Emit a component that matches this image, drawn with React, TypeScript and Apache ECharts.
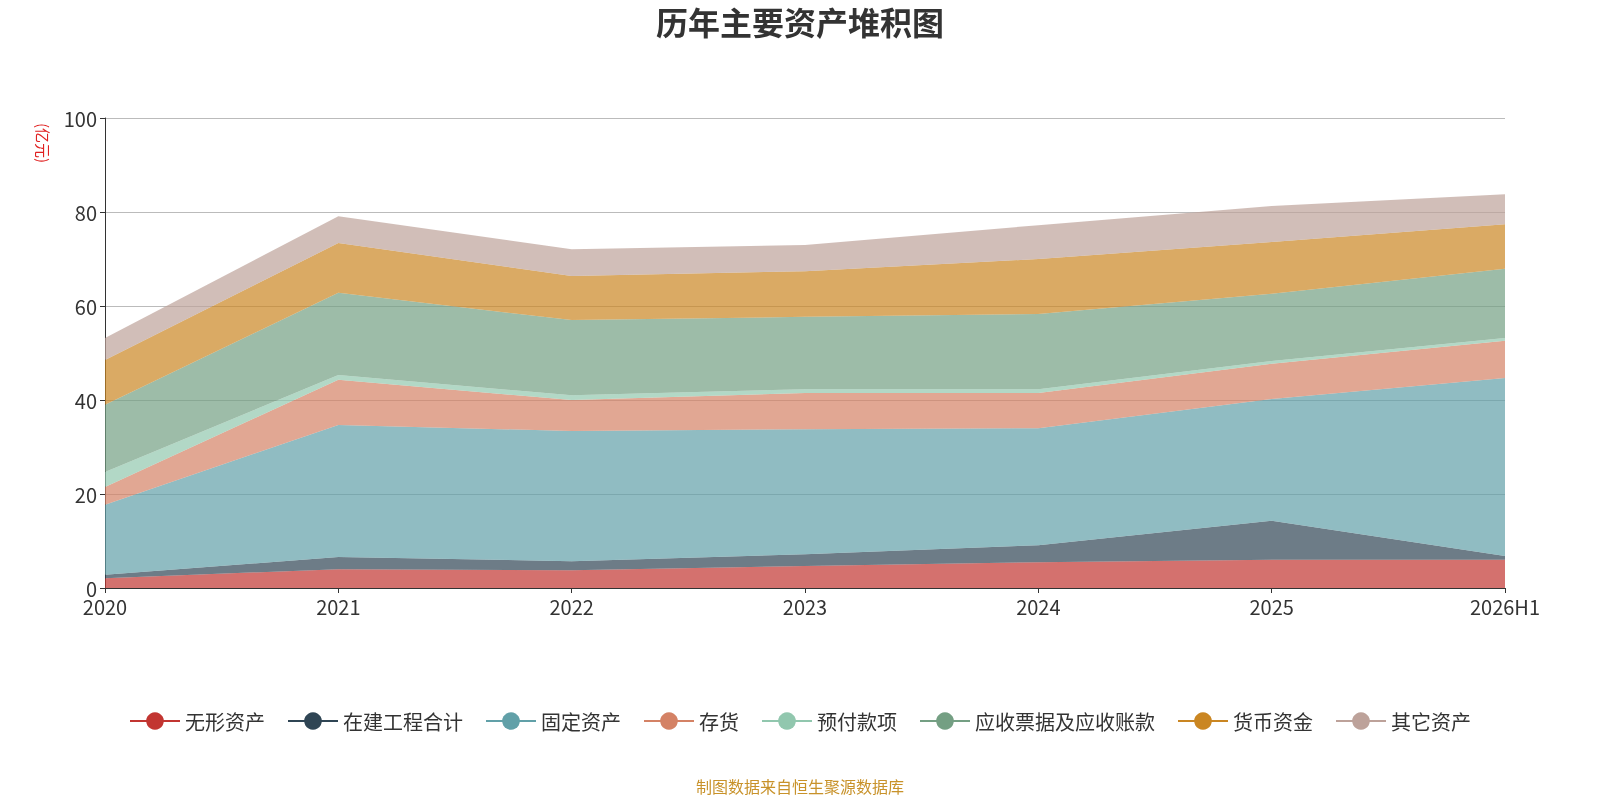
import React, { useEffect, useRef } from 'react';
import * as echarts from 'echarts';

const years = ['2020', '2021', '2022', '2023', '2024', '2025', '2026H1'];
const intangible = [2.1, 4.0, 3.8, 4.7, 5.5, 6.0, 6.0];
const construction = [0.7, 2.6, 1.9, 2.5, 3.6, 8.3, 0.8];
const fixedAssets = [14.9, 28.1, 27.7, 26.6, 24.9, 25.9, 37.9];
const inventory = [3.8, 9.6, 6.6, 7.7, 7.5, 7.5, 7.9];
const prepayments = [3.2, 1.0, 1.0, 0.8, 0.8, 0.6, 0.6];
const receivables = [14.3, 17.5, 16.0, 15.4, 16.0, 14.3, 14.7];
const cash = [9.5, 10.6, 9.4, 9.7, 11.7, 11.0, 9.5];
const others = [4.7, 5.7, 5.7, 5.6, 7.2, 7.7, 6.4];

const seriesDefs: [string, number[], string][] = [
  ['无形资产', intangible, '#c23531'],
  ['在建工程合计', construction, '#2f4554'],
  ['固定资产', fixedAssets, '#61a0a8'],
  ['存货', inventory, '#d48265'],
  ['预付款项', prepayments, '#91c7ae'],
  ['应收票据及应收账款', receivables, '#749f83'],
  ['货币资金', cash, '#ca8622'],
  ['其它资产', others, '#bda29a'],
];

const App: React.FC = () => {
  const chartRef = useRef<HTMLDivElement | null>(null);

  useEffect(() => {
    if (!chartRef.current) return;
    const chart = echarts.init(chartRef.current, null, { renderer: 'svg' });
    chart.setOption({
      animation: false,
      textStyle: { fontFamily: 'Noto Sans CJK SC' },
      color: seriesDefs.map((s) => s[2]),
      title: {
        text: '历年主要资产堆积图',
        left: 'center',
        top: 0,
        textStyle: { fontSize: 32, fontWeight: 'bold', color: '#333' },
      },
      grid: { left: 105, right: 95, top: 118, bottom: 212 },
      legend: {
        bottom: 64,
        left: 'center',
        itemWidth: 50,
        itemHeight: 22,
        itemGap: 22,
        lineStyle: { width: 2 },
        textStyle: { fontSize: 20, color: '#333' },
        data: seriesDefs.map((s) => s[0]),
      },
      graphic: [
        {
          type: 'text',
          left: 'center',
          bottom: 6,
          style: { text: '制图数据来自恒生聚源数据库', fill: '#c8922a', fontSize: 16, fontFamily: 'Noto Sans CJK SC' },
        },
        {
          type: 'text',
          x: 43,
          y: 143,
          rotation: -Math.PI / 2,
          style: {
            text: '(亿元)', fill: '#e02020', fontSize: 15, fontFamily: 'Noto Sans CJK SC',
            align: 'center', verticalAlign: 'middle',
          },
        },
      ],
      xAxis: {
        type: 'category',
        data: years,
        boundaryGap: false,
        axisLine: { lineStyle: { color: '#333' } },
        axisTick: { show: true, lineStyle: { color: '#333' } },
        axisLabel: { fontSize: 20, color: '#333' },
      },
      yAxis: {
        type: 'value',
        min: 0,
        max: 100,
        interval: 20,
        axisLine: { show: true, lineStyle: { color: '#333' } },
        axisTick: { show: true },
        axisLabel: { fontSize: 20, color: '#333' },
        splitLine: { lineStyle: { color: '#bbb' } },
      },
      series: seriesDefs.map(([name, data, color]) => ({
        name,
        type: 'line',
        stack: 'total',
        data,
        symbol: 'circle',
        showSymbol: false,
        lineStyle: { width: 0, color },
        itemStyle: { color },
        areaStyle: { color, opacity: 0.7 },
      })),
    });
    return () => chart.dispose();
  }, []);

  return (
    <div
      ref={chartRef}
      style={{ position: 'fixed', left: 0, top: 0, width: 1600, height: 800 }}
    />
  );
};

export default App;
